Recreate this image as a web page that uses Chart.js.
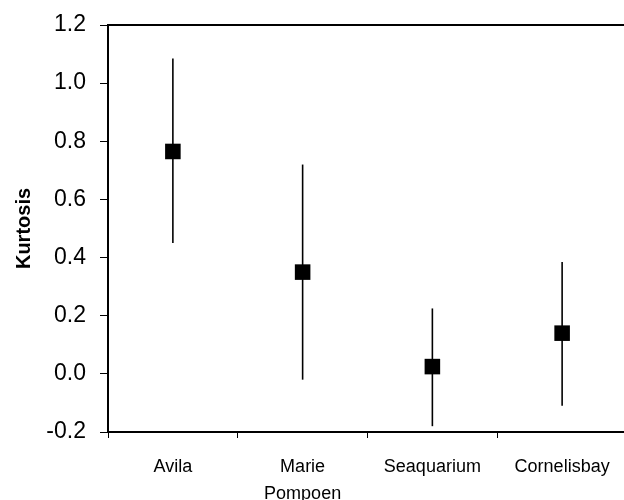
<!DOCTYPE html>
<html>
<head>
<meta charset="utf-8">
<script src="https://cdn.jsdelivr.net/npm/chart.js@4/dist/chart.umd.min.js"></script>
<style>
  html, body { margin: 0; padding: 0; background: #fff; overflow: hidden; }
  #wrap { width: 638px; height: 500px; }
</style>
</head>
<body>
<div id="wrap"><canvas id="kurtChart" width="638" height="500"></canvas></div>
<script>
const sites = ["Avila", ["Marie", "Pompoen"], "Seaquarium", "Cornelisbay"];
const kurtosis = [0.765, 0.35, 0.025, 0.14];
const lowerCI = [0.45, -0.02, -0.18, -0.11];
const upperCI = [1.085, 0.72, 0.225, 0.385];
const yTicks = [-0.2, 0.0, 0.2, 0.4, 0.6, 0.8, 1.0, 1.2];

const ctx = document.getElementById("kurtChart").getContext("2d");

// vertical error bars, drawn under the square markers
const errorBars = {
  id: "errorBars",
  beforeDatasetsDraw(chart) {
    const x = chart.scales.x;
    const y = chart.scales.y;
    const c = chart.ctx;
    c.save();
    c.strokeStyle = "#000";
    c.lineWidth = 1.6;
    kurtosis.forEach((v, i) => {
      const px = x.getPixelForValue(i);
      c.beginPath();
      c.moveTo(px, y.getPixelForValue(lowerCI[i]));
      c.lineTo(px, y.getPixelForValue(upperCI[i]));
      c.stroke();
    });
    c.restore();
  }
};

// top border of the plot frame
const frameTop = {
  id: "frameTop",
  afterDraw(chart) {
    const a = chart.chartArea;
    const c = chart.ctx;
    c.save();
    c.strokeStyle = "#000";
    c.lineWidth = 2;
    c.beginPath();
    c.moveTo(a.left, a.top);
    c.lineTo(a.right + 5, a.top);
    c.stroke();
    c.restore();
  }
};

new Chart(ctx, {
  type: "line",
  data: {
    labels: sites,
    datasets: [{
      data: kurtosis,
      showLine: false,
      pointStyle: "rect",
      pointRadius: 11,
      pointHoverRadius: 11,
      pointBackgroundColor: "#000",
      pointBorderColor: "#000",
      pointBorderWidth: 0
    }]
  },
  options: {
    responsive: false,
    animation: false,
    layout: { padding: { left: 0, right: 3, top: 25, bottom: 0 } },
    plugins: {
      legend: { display: false },
      tooltip: { enabled: false }
    },
    scales: {
      x: {
        offset: true,
        afterFit: s => { s.height = 68; },
        grid: {
          offset: true,
          drawOnChartArea: false,
          drawTicks: true,
          tickLength: 6,
          color: "#000",
          lineWidth: 1
        },
        border: { color: "#000", width: 2 },
        ticks: {
          color: "#000",
          padding: 16,
          maxRotation: 0,
          font: { family: "'Liberation Sans', Arial, sans-serif", size: 18, lineHeight: 1.5 }
        }
      },
      y: {
        min: -0.2,
        max: 1.2,
        afterFit: s => { s.width = 108; s.paddingTop = 0; s.paddingBottom = 0; },
        afterBuildTicks: s => { s.ticks = yTicks.map(v => ({ value: v })); },
        grid: {
          drawOnChartArea: false,
          drawTicks: true,
          tickLength: 8,
          color: "#000",
          lineWidth: 1
        },
        border: { color: "#000", width: 2 },
        title: {
          display: true,
          text: "Kurtosis",
          color: "#000",
          padding: { top: 12, bottom: 0 },
          font: { family: "'Liberation Sans', Arial, sans-serif", size: 20, weight: "bold" }
        },
        ticks: {
          color: "#000",
          padding: 14,
          callback: v => v.toFixed(1),
          font: { family: "'Liberation Sans', Arial, sans-serif", size: 23 }
        }
      }
    }
  },
  plugins: [errorBars, frameTop]
});
</script>
</body>
</html>
